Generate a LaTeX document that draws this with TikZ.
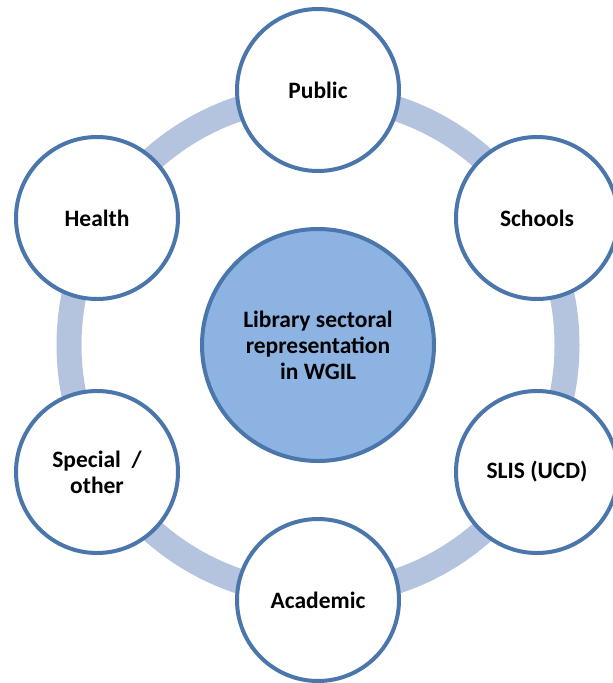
\documentclass[tikz,border=0pt]{standalone}
\usepackage{fontspec}
\setmainfont{Carlito}
\definecolor{ringblue}{RGB}{180,196,223}
\definecolor{edgeblue}{RGB}{74,118,172}
\definecolor{hubblue}{RGB}{141,179,226}
\begin{document}
\begin{tikzpicture}[x=1pt, y=-1pt,
  sector/.style={circle, draw=edgeblue, line width=4pt, fill=white, minimum size=162pt,
    inner sep=0pt, align=center, font=\fontsize{23.5}{26}\selectfont\bfseries},
  hub/.style={sector, fill=hubblue, minimum size=232pt}]

\useasboundingbox (0,0) rectangle (613,683);

\node[hub] (hub) at (318,345) {Library sectoral\\representation\\in WGIL};

\draw[ringblue, line width=25pt] (hub.center) circle (249);

\node[sector] (public)   at (318,90)  {Public};
\node[sector] (schools)  at (537,218) {Schools};
\node[sector] (slis)     at (537,472) {SLIS (UCD)};
\node[sector] (academic) at (318,600) {Academic};
\node[sector] (special)  at (97,472)  {Special\ \ /\\other};
\node[sector] (health)   at (97,218)  {Health};
\end{tikzpicture}
\end{document}
